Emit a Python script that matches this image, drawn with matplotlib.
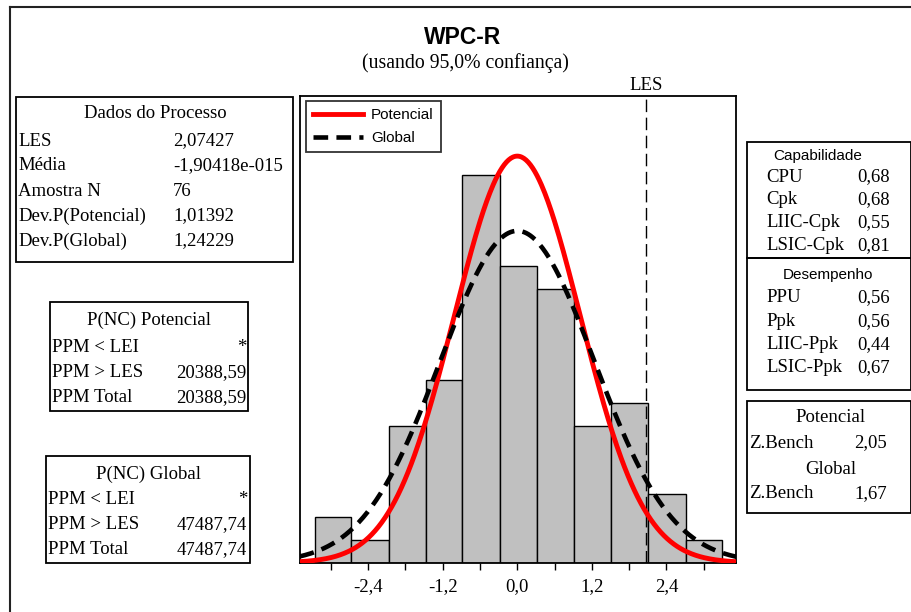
import numpy as np
import matplotlib
matplotlib.use('Agg')
import matplotlib.pyplot as plt
from matplotlib.patches import Rectangle
from matplotlib.lines import Line2D

# dados do histograma
bin_edges = [-3.26, -2.67, -2.07, -1.47, -0.89, -0.28, 0.31, 0.92, 1.51, 2.10, 2.71, 3.30]
counts = [2, 1, 6, 8, 17, 13, 12, 6, 7, 3, 1]

les = 2.07427
media = -1.90418e-15
n_amostra = 76
dp_potencial = 1.01392
dp_global = 1.24229

tick_major = [-2.4, -1.2, 0.0, 1.2, 2.4]
tick_labels = ['-2,4', '-1,2', '0,0', '1,2', '2,4']
tick_minor = [-3.0, -1.8, -0.6, 0.6, 1.8, 3.0]

dados_rotulos = ['LES', 'Média', 'Amostra N', 'Dev.P(Potencial)', 'Dev.P(Global)']
dados_valores = ['2,07427', '-1,90418e-015', '76', '1,01392', '1,24229']

pnc_rotulos = ['PPM < LEI', 'PPM > LES', 'PPM Total']
pnc_pot_valores = ['*', '20388,59', '20388,59']
pnc_glob_valores = ['*', '47487,74', '47487,74']

cap_rotulos = ['CPU', 'Cpk', 'LIIC-Cpk', 'LSIC-Cpk']
cap_valores = ['0,68', '0,68', '0,55', '0,81']
des_rotulos = ['PPU', 'Ppk', 'LIIC-Ppk', 'LSIC-Ppk']
des_valores = ['0,56', '0,56', '0,44', '0,67']
zbench_pot = '2,05'
zbench_glob = '1,67'

W, H = 912, 612
SERIF = 'Liberation Serif'
SANS = 'Liberation Sans'
FS = 13.5

fig = plt.figure(figsize=(W / 100, H / 100), dpi=100)


def fx(x):
    return x / W


def fy(y):
    return 1 - y / H


def txt(x, y, s, ha='left', size=FS, family=SERIF, **kw):
    fig.text(fx(x), fy(y), s, ha=ha, va='center', fontsize=size, family=family, **kw)


def caixa(x0, y0, x1, y1, lw=1.3):
    fig.add_artist(Rectangle((fx(x0), fy(y1)), fx(x1 - x0), (y1 - y0) / H,
                             transform=fig.transFigure, fill=False,
                             edgecolor='black', linewidth=lw))


# moldura externa
fig.add_artist(Line2D([fx(10), fx(10)], [fy(7), 0], transform=fig.transFigure, color='#222222', lw=1.5))
fig.add_artist(Line2D([fx(10), 1], [fy(7), fy(7)], transform=fig.transFigure, color='#222222', lw=1.5))

# eixo principal
ax_l, ax_r, ax_t, ax_b = 300, 736, 96, 562.7
ax = fig.add_axes([fx(ax_l), fy(ax_b), fx(ax_r - ax_l), (ax_b - ax_t) / H])

larg = np.diff(bin_edges)
ax.bar(bin_edges[:-1], counts, width=larg, align='edge', color='#C0C0C0',
       edgecolor='black', linewidth=1.0, zorder=2)

bw = np.mean(larg)
x = np.linspace(-3.5, 3.52, 400)
y_pot = n_amostra * bw * np.exp(-0.5 * ((x - media) / dp_potencial) ** 2) / (dp_potencial * np.sqrt(2 * np.pi))
y_glob = n_amostra * bw * np.exp(-0.5 * ((x - media) / dp_global) ** 2) / (dp_global * np.sqrt(2 * np.pi))
ax.plot(x, y_pot, color='red', lw=3.5, zorder=4, label='Potencial')
ax.plot(x, y_glob, color='black', lw=3.3, dashes=(3.2, 1.8), zorder=5, label='Global')
ax.axvline(les, color='black', lw=1.0, dashes=(9, 4), zorder=3)

ax.set_xlim(-3.495, 3.518)
ax.set_ylim(0, 20.47)
ax.set_yticks([])
ax.set_xticks(tick_major)
ax.set_xticklabels(tick_labels, family=SERIF, fontsize=FS)
ax.set_xticks(tick_minor, minor=True)
ax.tick_params(axis='x', which='both', direction='out', length=5, width=1, pad=6)
for s in ax.spines.values():
    s.set_linewidth(1.3)

leg = ax.legend(loc='upper left', bbox_to_anchor=(0.014, 0.989), frameon=True, fancybox=False,
                edgecolor='black', prop={'family': SANS, 'size': 11}, handlelength=3.3,
                borderpad=0.45, labelspacing=0.6, handletextpad=0.5, borderaxespad=0)
leg.get_frame().set_linewidth(1.3)

# titulos
txt(463, 37, 'WPC-R', ha='center', size=16.5, family=SANS, weight='bold')
txt(465, 63, '(usando 95,0% confiança)', ha='center', size=14.2)
txt(646, 86, 'LES', ha='center', size=FS)

# Dados do Processo
caixa(16, 97, 293, 262)
txt(155, 114, 'Dados do Processo', ha='center')
for i, (r, v) in enumerate(zip(dados_rotulos, dados_valores)):
    yy = 141 + 25 * i
    txt(18, yy, r)
    txt(173, yy, v)

# P(NC) Potencial
caixa(50, 302, 248, 411)
txt(149, 320, 'P(NC) Potencial', ha='center')
for i, (r, v) in enumerate(zip(pnc_rotulos, pnc_pot_valores)):
    yy = 347 + 25.5 * i
    txt(52, yy, r)
    txt(246, yy, v, ha='right')

# P(NC) Global
caixa(46, 456, 250, 563)
txt(148, 474, 'P(NC) Global', ha='center')
for i, (r, v) in enumerate(zip(pnc_rotulos, pnc_glob_valores)):
    yy = 499 + 25.5 * i
    txt(48, yy, r)
    txt(247, yy, v, ha='right')

# Capabilidade / Desempenho
caixa(747, 142, 911, 258)
caixa(747, 258, 911, 390)
txt(818, 156, 'Capabilidade', ha='center', size=11, family=SANS)
for i, (r, v) in enumerate(zip(cap_rotulos, cap_valores)):
    yy = 177 + 22.7 * i
    txt(766, yy, r)
    txt(890, yy, v, ha='right')
txt(828, 275, 'Desempenho', ha='center', size=11, family=SANS)
for i, (r, v) in enumerate(zip(des_rotulos, des_valores)):
    yy = 298 + 23.3 * i
    txt(766, yy, r)
    txt(890, yy, v, ha='right')

# Z.Bench
caixa(747, 401, 911, 513)
txt(831, 418, 'Potencial', ha='center')
txt(749, 443, 'Z.Bench')
txt(887, 443, zbench_pot, ha='right')
txt(831, 469, 'Global', ha='center')
txt(749, 494, 'Z.Bench')
txt(887, 494, zbench_glob, ha='right')

fig.savefig('out.png', dpi=100)
